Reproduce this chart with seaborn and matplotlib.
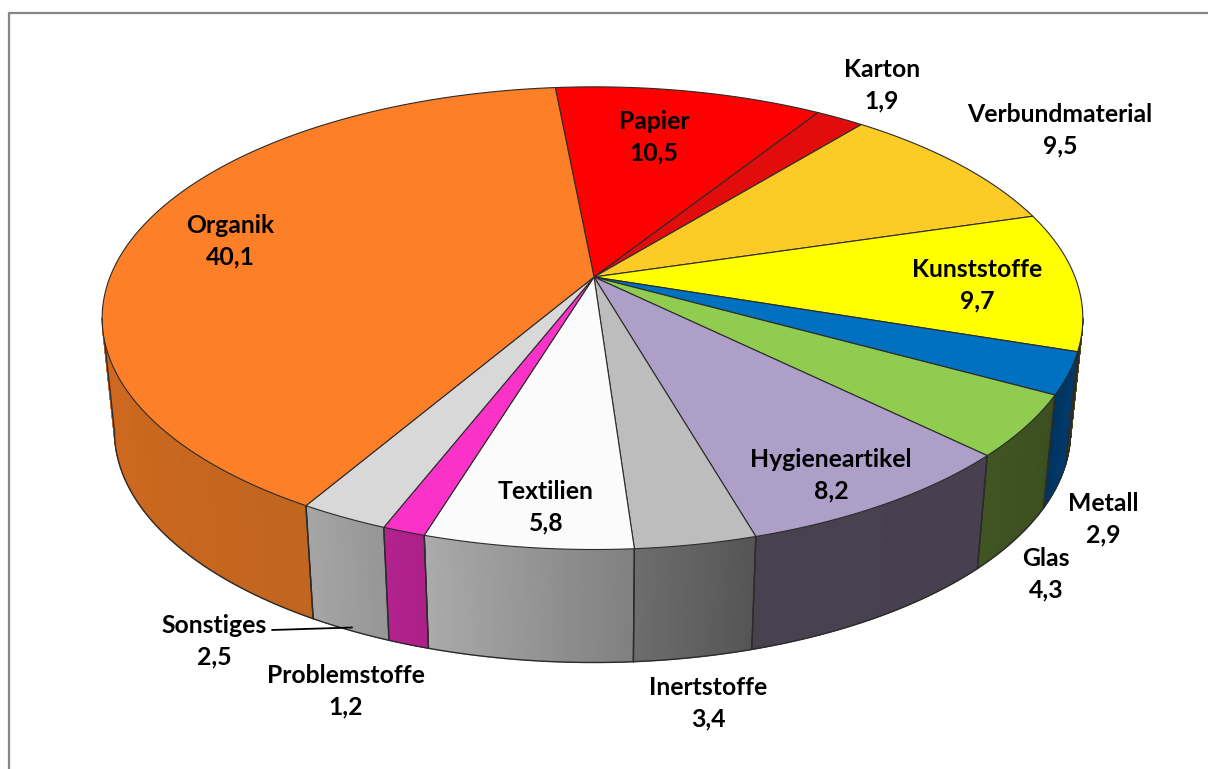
import matplotlib
matplotlib.use('Agg')
import matplotlib.pyplot as plt
import numpy as np
import seaborn as sns

categories = ['Papier', 'Karton', 'Verbundmaterial', 'Kunststoffe', 'Metall', 'Glas',
              'Hygieneartikel', 'Inertstoffe', 'Textilien', 'Problemstoffe', 'Sonstiges', 'Organik']
values = [10.5, 1.9, 9.5, 9.7, 2.9, 4.3, 8.2, 3.4, 5.8, 1.2, 2.5, 40.1]

top_colors = ['#ff0000', '#e30c0c', '#fdcb26', '#ffff00', '#0070c0', '#8fcc4f',
              '#ae9fc8', '#bdbdbd', '#fbfbfb', '#fb32c8', '#d8d8d8', '#fd7f27']
side_left = ['#a00000', '#900000', '#a08018', '#4a4a10', '#00345f', '#405522',
             '#48414f', '#6e6e6e', '#ababab', '#b3228f', '#a6a6a6', '#d2691f']
side_right = ['#a00000', '#900000', '#a08018', '#4a4a10', '#003c70', '#3c4f20',
              '#48404e', '#555555', '#808080', '#ad2088', '#969696', '#c1651f']

# label centres in pixels, same order as categories
label_x = [654, 882, 1060, 977, 1103, 1046, 831, 708, 546, 346, 214, 230]
label_y = [137, 85, 130, 285, 519, 574, 475, 703, 507, 691, 641, 241]

W, H = 1208, 769
CX, CY = 594, 277      # pie apex
F_LEFT, F_RIGHT, G, K = 484, 481, 224, 0.178   # perspective of the tilted disc
START = -5.4           # degrees clockwise from top
DEPTH = 113
BOTTOM_SCALE = 0.975
EDGE = '#2b2b2b'


def project(theta, bottom=False):
    t = np.radians(theta)
    u, v = np.sin(t), -np.cos(t)
    d = 1 - K * v
    f = np.where(u > 0, F_RIGHT, F_LEFT)
    if bottom:
        return CX + BOTTOM_SCALE * f * u / d, CY + DEPTH + G * v / d
    return CX + f * u / d, CY + G * v / d


sns.set_theme(style='white')
plt.rcParams['font.family'] = ['Lato', 'DejaVu Sans']

fig, ax = plt.subplots(figsize=(W / 100, H / 100), dpi=100)
ax.set_position([0, 0, 1, 1])
ax.set_xlim(0, W)
ax.set_ylim(H, 0)
ax.axis('off')

# frame, only top and left are in the picture
ax.plot([W, 9, 9], [12.5, 12.5, H], color='#868686', lw=1.6, zorder=1)

edges = START + np.cumsum([0] + values) * 3.6

# the wall only shows between the two silhouette points of the disc
vis_lo = np.degrees(np.arccos(-K))
vis_hi = 360 - vis_lo

for i in range(len(values)):
    a, b = max(edges[i], vis_lo), min(edges[i + 1], vis_hi)
    if a >= b:
        continue
    steps = np.linspace(a, b, 60)
    xt, yt = project(steps)
    xb, yb = project(steps, bottom=True)
    # gradient always runs left to right on screen, steps run right to left
    cmap = sns.blend_palette([side_right[i], side_left[i]], as_cmap=True)
    shade = np.linspace(0, 1, len(steps))
    ax.pcolormesh(np.vstack([xt, xb]), np.vstack([yt, yb]), np.vstack([shade, shade]),
                  cmap=cmap, shading='gouraud', zorder=2)
    ax.plot(xb, yb, color=EDGE, lw=1.0, zorder=3)
    ax.plot([xt[0], xb[0]], [yt[0], yb[0]], color=EDGE, lw=1.0, zorder=3)
    ax.plot([xt[-1], xb[-1]], [yt[-1], yb[-1]], color=EDGE, lw=1.0, zorder=3)

# top of the pie
for i in range(len(values)):
    steps = np.linspace(edges[i], edges[i + 1], 120)
    xt, yt = project(steps)
    ax.fill(np.r_[CX, xt], np.r_[CY, yt], facecolor=top_colors[i], edgecolor=EDGE,
            lw=0.8, joinstyle='round', zorder=4)

for name, val, x, y in zip(categories, values, label_x, label_y):
    ax.text(x, y, name + '\n' + f'{val:.1f}'.replace('.', ','), ha='center', va='center',
            fontsize=17.8, fontweight='bold', color='black', linespacing=1.44, zorder=6)

# leader line for Sonstiges
ax.plot([272, 352], [630, 627.5], color='black', lw=1.3, zorder=6)

fig.savefig('out.png', dpi=100, facecolor='white')
